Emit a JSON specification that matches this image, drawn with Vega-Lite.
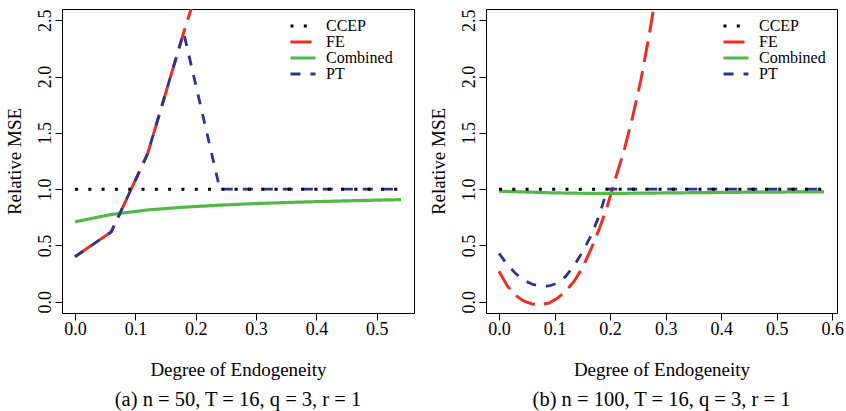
{
  "$schema": "https://vega.github.io/schema/vega-lite/v6.json",
  "padding": {"left": 4, "top": 8, "right": 2, "bottom": 2},
  "background": "white",
  "datasets": {
    "a": [
      {"s": "FE", "x": 0.0, "y": 0.40}, {"s": "FE", "x": 0.06, "y": 0.62}, {"s": "FE", "x": 0.12, "y": 1.31}, {"s": "FE", "x": 0.18, "y": 2.39}, {"s": "FE", "x": 0.24, "y": 3.42},
      {"s": "Combined", "x": 0.0, "y": 0.71}, {"s": "Combined", "x": 0.06, "y": 0.775}, {"s": "Combined", "x": 0.12, "y": 0.815}, {"s": "Combined", "x": 0.18, "y": 0.84}, {"s": "Combined", "x": 0.24, "y": 0.858}, {"s": "Combined", "x": 0.30, "y": 0.872}, {"s": "Combined", "x": 0.36, "y": 0.883}, {"s": "Combined", "x": 0.42, "y": 0.892}, {"s": "Combined", "x": 0.48, "y": 0.90}, {"s": "Combined", "x": 0.54, "y": 0.907},
      {"s": "PT", "x": 0.0, "y": 0.40}, {"s": "PT", "x": 0.06, "y": 0.62}, {"s": "PT", "x": 0.12, "y": 1.31}, {"s": "PT", "x": 0.18, "y": 2.39}, {"s": "PT", "x": 0.24, "y": 1.0}, {"s": "PT", "x": 0.30, "y": 1.0}, {"s": "PT", "x": 0.36, "y": 1.0}, {"s": "PT", "x": 0.42, "y": 1.0}, {"s": "PT", "x": 0.48, "y": 1.0}, {"s": "PT", "x": 0.54, "y": 1.0},
      {"s": "CCEP", "x": 0.0, "y": 1.0}, {"s": "CCEP", "x": 0.06, "y": 1.0}, {"s": "CCEP", "x": 0.12, "y": 1.0}, {"s": "CCEP", "x": 0.18, "y": 1.0}, {"s": "CCEP", "x": 0.24, "y": 1.0}, {"s": "CCEP", "x": 0.30, "y": 1.0}, {"s": "CCEP", "x": 0.36, "y": 1.0}, {"s": "CCEP", "x": 0.42, "y": 1.0}, {"s": "CCEP", "x": 0.48, "y": 1.0}, {"s": "CCEP", "x": 0.54, "y": 1.0}
    ],
    "b": [
      {"s": "FE", "x": 0.0, "y": 0.27}, {"s": "FE", "x": 0.015, "y": 0.14}, {"s": "FE", "x": 0.03, "y": 0.055}, {"s": "FE", "x": 0.045, "y": 0.005}, {"s": "FE", "x": 0.06, "y": -0.02}, {"s": "FE", "x": 0.075, "y": -0.025}, {"s": "FE", "x": 0.09, "y": -0.012}, {"s": "FE", "x": 0.105, "y": 0.03}, {"s": "FE", "x": 0.12, "y": 0.095}, {"s": "FE", "x": 0.135, "y": 0.18}, {"s": "FE", "x": 0.15, "y": 0.30}, {"s": "FE", "x": 0.165, "y": 0.46}, {"s": "FE", "x": 0.18, "y": 0.64}, {"s": "FE", "x": 0.195, "y": 0.85}, {"s": "FE", "x": 0.21, "y": 1.10}, {"s": "FE", "x": 0.225, "y": 1.34}, {"s": "FE", "x": 0.24, "y": 1.63}, {"s": "FE", "x": 0.255, "y": 1.96}, {"s": "FE", "x": 0.27, "y": 2.36}, {"s": "FE", "x": 0.285, "y": 2.8}, {"s": "FE", "x": 0.30, "y": 3.3},
      {"s": "Combined", "x": 0.0, "y": 0.982}, {"s": "Combined", "x": 0.045, "y": 0.975}, {"s": "Combined", "x": 0.09, "y": 0.968}, {"s": "Combined", "x": 0.135, "y": 0.964}, {"s": "Combined", "x": 0.18, "y": 0.962}, {"s": "Combined", "x": 0.225, "y": 0.963}, {"s": "Combined", "x": 0.27, "y": 0.965}, {"s": "Combined", "x": 0.315, "y": 0.967}, {"s": "Combined", "x": 0.36, "y": 0.969}, {"s": "Combined", "x": 0.405, "y": 0.971}, {"s": "Combined", "x": 0.45, "y": 0.973}, {"s": "Combined", "x": 0.495, "y": 0.974}, {"s": "Combined", "x": 0.54, "y": 0.975}, {"s": "Combined", "x": 0.585, "y": 0.976},
      {"s": "PT", "x": 0.0, "y": 0.43}, {"s": "PT", "x": 0.015, "y": 0.33}, {"s": "PT", "x": 0.03, "y": 0.25}, {"s": "PT", "x": 0.045, "y": 0.19}, {"s": "PT", "x": 0.06, "y": 0.155}, {"s": "PT", "x": 0.075, "y": 0.138}, {"s": "PT", "x": 0.09, "y": 0.14}, {"s": "PT", "x": 0.105, "y": 0.165}, {"s": "PT", "x": 0.12, "y": 0.225}, {"s": "PT", "x": 0.135, "y": 0.32}, {"s": "PT", "x": 0.15, "y": 0.44}, {"s": "PT", "x": 0.165, "y": 0.58}, {"s": "PT", "x": 0.18, "y": 0.76}, {"s": "PT", "x": 0.19, "y": 0.92}, {"s": "PT", "x": 0.195, "y": 1.0}, {"s": "PT", "x": 0.24, "y": 1.0}, {"s": "PT", "x": 0.285, "y": 1.0}, {"s": "PT", "x": 0.33, "y": 1.0}, {"s": "PT", "x": 0.375, "y": 1.0}, {"s": "PT", "x": 0.42, "y": 1.0}, {"s": "PT", "x": 0.465, "y": 1.0}, {"s": "PT", "x": 0.51, "y": 1.0}, {"s": "PT", "x": 0.555, "y": 1.0}, {"s": "PT", "x": 0.585, "y": 1.0},
      {"s": "CCEP", "x": 0.0, "y": 1.0}, {"s": "CCEP", "x": 0.045, "y": 1.0}, {"s": "CCEP", "x": 0.09, "y": 1.0}, {"s": "CCEP", "x": 0.135, "y": 1.0}, {"s": "CCEP", "x": 0.18, "y": 1.0}, {"s": "CCEP", "x": 0.225, "y": 1.0}, {"s": "CCEP", "x": 0.27, "y": 1.0}, {"s": "CCEP", "x": 0.315, "y": 1.0}, {"s": "CCEP", "x": 0.36, "y": 1.0}, {"s": "CCEP", "x": 0.405, "y": 1.0}, {"s": "CCEP", "x": 0.45, "y": 1.0}, {"s": "CCEP", "x": 0.495, "y": 1.0}, {"s": "CCEP", "x": 0.54, "y": 1.0}, {"s": "CCEP", "x": 0.585, "y": 1.0}
    ]
  },
  "config": {
    "font": "Liberation Serif",
    "view": {"stroke": "black", "strokeWidth": 1},
    "axis": {
      "labelFont": "Liberation Serif", "titleFont": "Liberation Serif",
      "labelFontSize": 18, "titleFontSize": 19, "titleFontWeight": "normal",
      "labelColor": "black", "titleColor": "black", "tickColor": "black",
      "tickSize": 7, "tickWidth": 1, "domain": false, "grid": false, "labelFlush": false, "labelOverlap": false
    },
    "legend": {
      "labelFont": "Liberation Serif", "labelFontSize": 16, "labelColor": "black"
    },
    "concat": {"spacing": 13},
    "title": {"font": "Liberation Serif", "fontSize": 20.5, "fontWeight": "normal", "color": "black"}
  },
  "resolve": {
    "scale": {"x": "independent", "y": "independent", "color": "independent", "strokeDash": "independent"},
    "legend": {"color": "independent", "strokeDash": "independent"}
  },
  "hconcat": [
    {
      "width": 352, "height": 304,
      "title": {"text": "(a) n = 50, T = 16, q = 3, r = 1", "orient": "bottom", "frame": "group", "anchor": "middle", "offset": 11},
      "data": {"name": "a"},
      "encoding": {
        "x": {"field": "x", "type": "quantitative", "scale": {"domain": [-0.0216, 0.5616], "nice": false, "zero": false},
              "axis": {"title": "Degree of Endogeneity", "values": [0, 0.1, 0.2, 0.3, 0.4, 0.5], "format": ".1f", "labelPadding": 0, "titlePadding": 22}},
        "y": {"field": "y", "type": "quantitative", "scale": {"domain": [-0.1, 2.6], "nice": false, "zero": false},
              "axis": {"title": "Relative MSE", "values": [0, 0.5, 1, 1.5, 2, 2.5], "format": ".1f", "labelAngle": -90, "labelAlign": "center", "labelBaseline": "bottom", "labelPadding": 1, "titlePadding": 12}},
        "color": {"field": "s", "type": "nominal",
                  "scale": {"domain": ["CCEP", "FE", "Combined", "PT"], "range": ["black", "#EE2E24", "#52B848", "#283593"]},
                  "legend": {"title": null, "orient": "none", "legendX": 233, "legendY": 9, "symbolType": "M-1.923,0H1.923", "symbolSize": 169, "symbolStrokeWidth": 3, "labelOffset": 15, "rowPadding": 0, "padding": 0}},
        "strokeDash": {"field": "s", "type": "nominal",
                  "scale": {"domain": ["CCEP", "FE", "Combined", "PT"], "range": [[3, 10.3], [21, 9], [1, 0], [10, 10]]},
                  "legend": {"title": null, "orient": "none", "legendX": 233, "legendY": 9, "symbolType": "M-1.923,0H1.923", "symbolSize": 169, "symbolStrokeWidth": 3, "labelOffset": 15, "rowPadding": 0, "padding": 0}}
      },
      "layer": [
        {"transform": [{"filter": "datum.s === 'FE'"}], "mark": {"type": "line", "clip": true, "strokeWidth": 3, "strokeCap": "butt"}},
        {"transform": [{"filter": "datum.s === 'Combined'"}], "mark": {"type": "line", "clip": true, "strokeWidth": 3.2, "strokeCap": "butt"}},
        {"transform": [{"filter": "datum.s === 'PT'"}], "mark": {"type": "line", "clip": true, "strokeWidth": 2.8, "strokeCap": "butt"}},
        {"transform": [{"filter": "datum.s === 'CCEP'"}], "mark": {"type": "line", "clip": true, "strokeWidth": 3, "strokeCap": "butt"}}
      ]
    },
    {
      "width": 351, "height": 304,
      "title": {"text": "(b) n = 100, T = 16, q = 3, r = 1", "orient": "bottom", "frame": "group", "anchor": "middle", "offset": 11},
      "data": {"name": "b"},
      "encoding": {
        "x": {"field": "x", "type": "quantitative", "scale": {"domain": [-0.0234, 0.6084], "nice": false, "zero": false},
              "axis": {"title": "Degree of Endogeneity", "values": [0, 0.1, 0.2, 0.3, 0.4, 0.5, 0.6], "format": ".1f", "labelPadding": 0, "titlePadding": 22}},
        "y": {"field": "y", "type": "quantitative", "scale": {"domain": [-0.1, 2.6], "nice": false, "zero": false},
              "axis": {"title": "Relative MSE", "values": [0, 0.5, 1, 1.5, 2, 2.5], "format": ".1f", "labelAngle": -90, "labelAlign": "center", "labelBaseline": "bottom", "labelPadding": 1, "titlePadding": 12}},
        "color": {"field": "s", "type": "nominal",
                  "scale": {"domain": ["CCEP", "FE", "Combined", "PT"], "range": ["black", "#EE2E24", "#52B848", "#283593"]},
                  "legend": {"title": null, "orient": "none", "legendX": 242, "legendY": 9, "symbolType": "M-1.923,0H1.923", "symbolSize": 169, "symbolStrokeWidth": 3, "labelOffset": 15, "rowPadding": 0, "padding": 0}},
        "strokeDash": {"field": "s", "type": "nominal",
                  "scale": {"domain": ["CCEP", "FE", "Combined", "PT"], "range": [[3, 10.3], [21, 9], [1, 0], [10, 10]]},
                  "legend": {"title": null, "orient": "none", "legendX": 242, "legendY": 9, "symbolType": "M-1.923,0H1.923", "symbolSize": 169, "symbolStrokeWidth": 3, "labelOffset": 15, "rowPadding": 0, "padding": 0}}
      },
      "layer": [
        {"transform": [{"filter": "datum.s === 'FE'"}], "mark": {"type": "line", "clip": true, "strokeWidth": 3, "strokeCap": "butt"}},
        {"transform": [{"filter": "datum.s === 'Combined'"}], "mark": {"type": "line", "clip": true, "strokeWidth": 3.2, "strokeCap": "butt"}},
        {"transform": [{"filter": "datum.s === 'PT'"}], "mark": {"type": "line", "clip": true, "strokeWidth": 2.8, "strokeCap": "butt"}},
        {"transform": [{"filter": "datum.s === 'CCEP'"}], "mark": {"type": "line", "clip": true, "strokeWidth": 3, "strokeCap": "butt"}}
      ]
    }
  ]
}
